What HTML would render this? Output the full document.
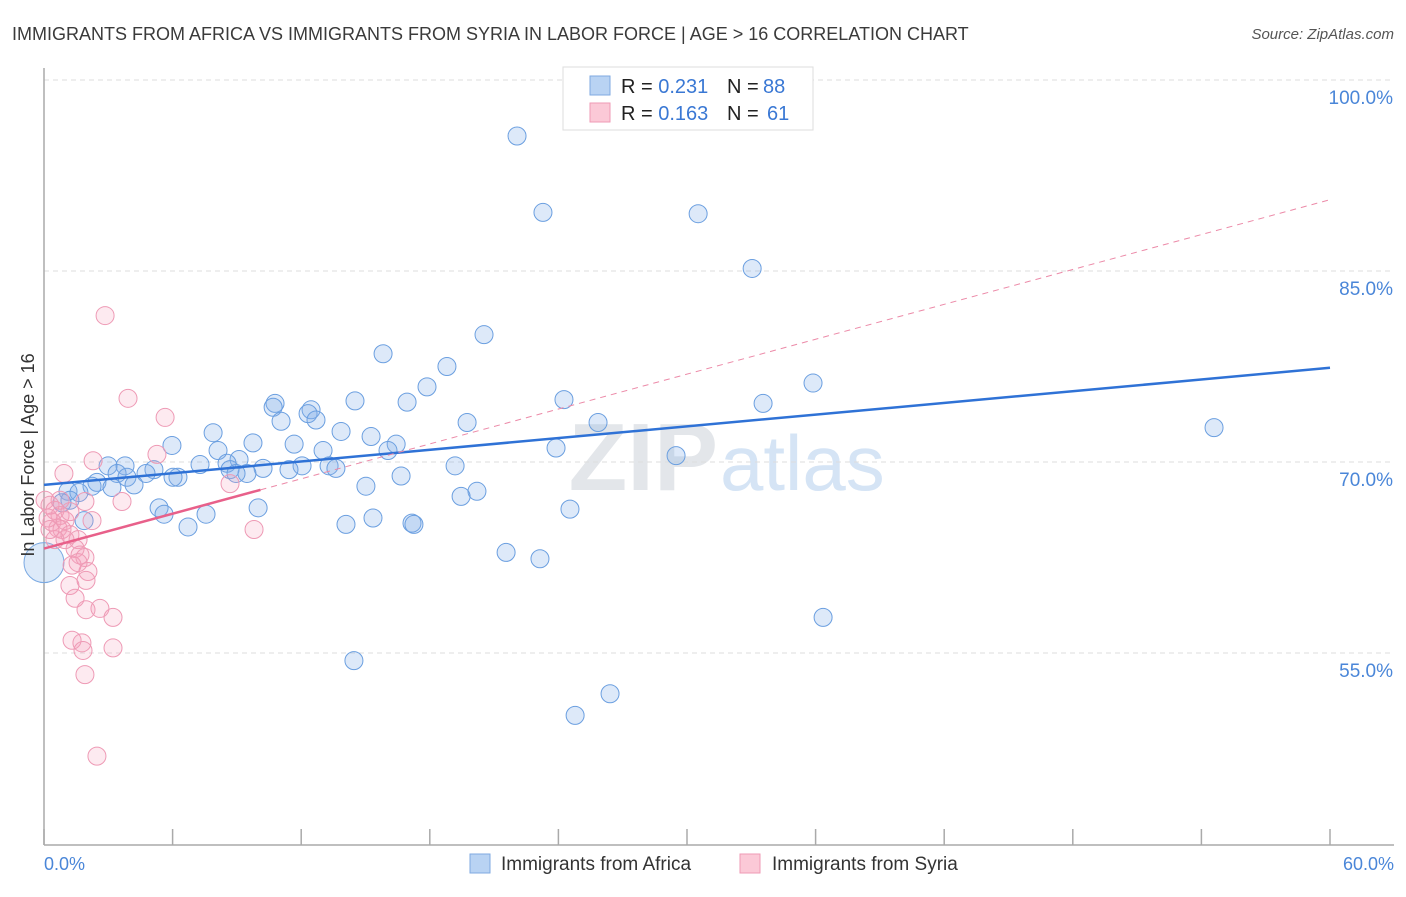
<!DOCTYPE html>
<html><head><meta charset="utf-8"><style>
body{margin:0;background:#fff;font-family:"Liberation Sans",sans-serif;}
svg text{font-family:"Liberation Sans",sans-serif;}
</style></head><body>
<svg id="chart" width="1406" height="892" xmlns="http://www.w3.org/2000/svg">
<text x="12" y="40" font-size="18" fill="#3a3a3a">IMMIGRANTS FROM AFRICA VS IMMIGRANTS FROM SYRIA IN LABOR FORCE | AGE &gt; 16 CORRELATION CHART</text>
<text x="1394" y="39" font-size="15" fill="#555" font-style="italic" text-anchor="end">Source: ZipAtlas.com</text>
<text x="718" y="490" font-size="96" font-weight="bold" fill="#e3e6ea" text-anchor="end">ZIP</text>
<text x="720" y="490" font-size="78" fill="#d5e4f5">atlas</text>
<g id="grid"></g>
<g id="axes"></g>
<g id="marks"></g>
<g id="trends"></g>
<text transform="translate(34,455) rotate(-90)" font-size="18" fill="#333" text-anchor="middle">In Labor Force | Age &gt; 16</text>
<text x="44" y="870" font-size="18" fill="#4a86d8">0.0%</text>
<text x="1394" y="870" font-size="18" fill="#4a86d8" text-anchor="end">60.0%</text>
<g>
<rect x="563" y="67" width="250" height="63" fill="#fff" stroke="#ddd"/>
<rect x="590" y="76" width="20" height="19" fill="#b9d3f3" stroke="#7fa9e0"/>
<rect x="590" y="103" width="20" height="19" fill="#fbc9d7" stroke="#ef9ab4"/>
<text x="621" y="93" font-size="20" fill="#222">R = <tspan fill="#3a78d4">0.231</tspan><tspan x="727">N =</tspan><tspan x="763" fill="#3a78d4">88</tspan></text>
<text x="621" y="120" font-size="20" fill="#222">R = <tspan fill="#3a78d4">0.163</tspan><tspan x="727">N =</tspan><tspan x="767" fill="#3a78d4">61</tspan></text>
</g>
<g>
<rect x="470" y="854" width="20" height="19" fill="#b9d3f3" stroke="#7fa9e0"/>
<text x="501" y="870" font-size="19" fill="#333">Immigrants from Africa</text>
<rect x="740" y="854" width="20" height="19" fill="#fbc9d7" stroke="#ef9ab4"/>
<text x="772" y="870" font-size="19" fill="#333">Immigrants from Syria</text>
</g>
</svg>
<script>
const yTicks=[100,85,70,55];
const yTickLabels=["100.0%","85.0%","70.0%","55.0%"];
const xTicks=[0,6,12,18,24,30,36,42,48,54,60];
const africaX=[22.07,23.28,30.52,33.04,20.53,15.82,18.80,17.87,14.51,16.94,24.26,35.88,33.55,10.78,10.69,12.46,12.32,12.69,11.06,19.74,25.85,54.59,7.89,13.86,15.26,5.97,9.75,11.67,16.43,16.05,23.89,13.02,8.12,29.49,9.10,8.54,7.28,19.18,2.99,3.78,10.22,12.04,13.30,13.62,11.43,9.47,8.68,5.13,8.96,3.41,4.76,6.25,6.02,3.87,16.66,4.20,2.47,2.24,3.17,15.02,20.20,19.46,1.12,1.63,1.21,0.84,5.37,9.99,7.56,5.60,15.35,14.09,6.72,17.17,17.26,24.54,1.87,21.56,23.14,36.35,14.46,26.41,24.78];
const africaY=[95.6,89.6,89.5,85.2,80.0,78.5,77.5,75.9,74.8,74.7,74.9,76.2,74.6,74.6,74.3,74.1,73.8,73.3,73.2,73.1,73.1,72.7,72.3,72.4,72.0,71.3,71.5,71.4,71.4,70.9,71.1,70.9,70.9,70.5,70.2,69.9,69.8,69.7,69.7,69.7,69.5,69.7,69.7,69.5,69.4,69.1,69.4,69.4,69.1,69.1,69.1,68.8,68.8,68.8,68.9,68.2,68.4,68.1,68.0,68.1,67.7,67.3,67.7,67.6,67.0,66.8,66.4,66.4,65.9,65.9,65.6,65.1,64.9,65.2,65.1,66.3,65.4,62.9,62.4,57.8,54.4,51.8,50.1];
const syriaX=[2.85,3.92,5.65,5.27,2.29,0.93,8.68,3.64,9.80,2.24,1.91,0.28,0.51,0.75,0.98,0.37,0.65,1.21,0.19,0.84,1.21,1.59,1.45,1.68,1.91,1.31,2.05,1.21,1.96,1.45,1.96,2.61,3.22,1.31,1.77,1.82,3.22,1.91,2.47,0.98,1.59,0.51,0.75,0.05,0.28];
const syriaY=[81.5,75.0,73.5,70.6,70.1,69.1,68.3,66.9,64.7,65.4,66.9,66.6,66.2,65.8,65.4,65.3,64.8,66.1,65.6,64.7,64.3,63.9,63.2,62.7,62.5,61.9,61.4,60.3,60.7,59.3,58.4,58.5,57.8,56.0,55.8,55.2,55.4,53.3,46.9,63.9,62.1,63.9,67.0,67.0,64.7];
const africaTrend=[68.2,77.4];
const syriaTrend=[63.2,90.6];
const syriaSolidEnd=10.1;

const NS="http://www.w3.org/2000/svg";
const X0=44,X1=1330,YTOP=80,PXPER=191/15;
function sx(v){return X0+(v/60)*(X1-X0);}
function sy(v){return YTOP+(100-v)*PXPER;}
function mk(tag,attrs,parent){const e=document.createElementNS(NS,tag);for(const k in attrs)e.setAttribute(k,attrs[k]);parent.appendChild(e);return e;}
const grid=document.getElementById('grid'),axes=document.getElementById('axes'),marks=document.getElementById('marks'),trends=document.getElementById('trends');
yTicks.forEach((t,i)=>{
  const l=mk('line',{x1:X0,x2:1394,y1:sy(t),y2:sy(t),stroke:'#ddd','stroke-dasharray':'5,4'},grid);
  
  
  const tx=mk('text',{x:1393,y:sy(t)+24,'font-size':19,fill:'#4a86d8','text-anchor':'end'},grid);
  tx.textContent=yTickLabels[i];
  
  
});
const ya=mk('line',{x1:X0,x2:X0,y1:68,y2:845,stroke:'#aaa','stroke-width':1.5},axes);


const xa=mk('line',{x1:X0,x2:1394,y1:845,y2:845,stroke:'#aaa','stroke-width':1.5},axes);


xTicks.forEach(t=>{
  const k=mk('line',{x1:sx(t),x2:sx(t),y1:829,y2:845,stroke:'#aaa','stroke-width':1.5},axes);
  
  
});
function dots(xs,ys,fill,stroke,name){
  xs.forEach((x,i)=>{
    const c=mk('circle',{cx:sx(x),cy:sy(ys[i]),r:9,fill:fill,stroke:stroke,'stroke-width':1},marks);
    
    
  });
}
const big=mk('circle',{cx:sx(0),cy:sy(62.1),r:20,fill:'rgba(120,170,230,0.25)',stroke:'#7aa9e2','stroke-width':1},marks);


dots(africaX,africaY,'rgba(130,175,232,0.27)','#6b9fe0','africa-point');
dots(syriaX,syriaY,'rgba(244,160,188,0.22)','#ee9ab5','syria-point');
const tb=mk('line',{x1:sx(0),y1:sy(africaTrend[0]),x2:sx(60),y2:sy(africaTrend[1]),stroke:'#2f72d6','stroke-width':2.5},trends);


const ps=(syriaTrend[1]-syriaTrend[0])/60;
const td=mk('line',{x1:sx(syriaSolidEnd),y1:sy(syriaTrend[0]+ps*syriaSolidEnd),x2:sx(60),y2:sy(syriaTrend[1]),stroke:'#ec8aa8','stroke-width':1,'stroke-dasharray':'6,5'},trends);


const tp=mk('line',{x1:sx(0),y1:sy(syriaTrend[0]),x2:sx(syriaSolidEnd),y2:sy(syriaTrend[0]+ps*syriaSolidEnd),stroke:'#e8608a','stroke-width':2.5},trends);


</script>
</body></html>
